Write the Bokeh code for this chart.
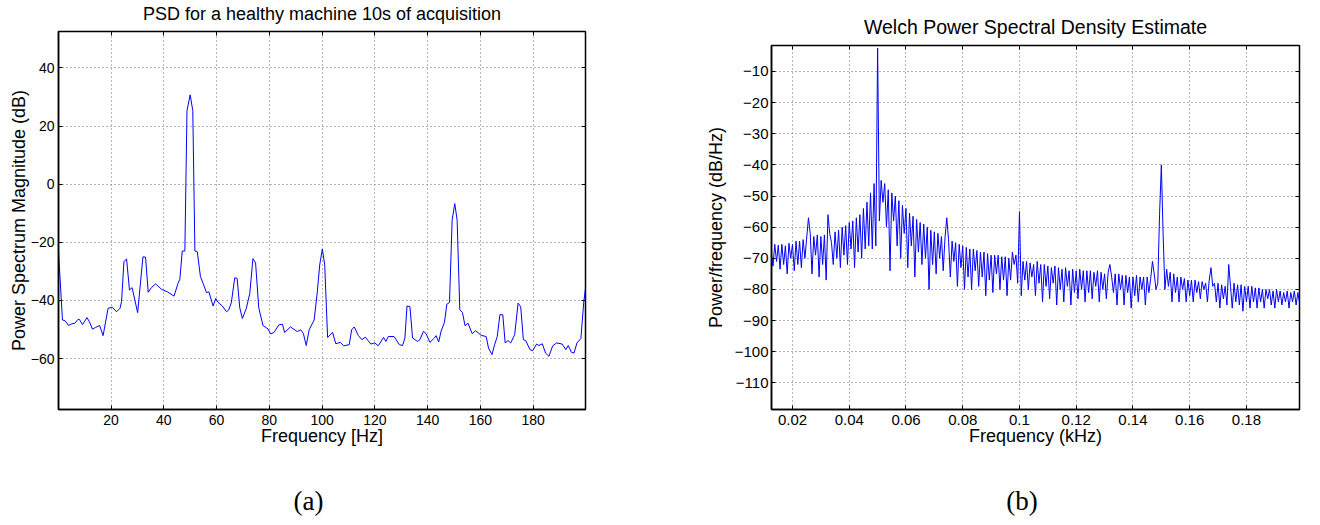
import numpy as np
from bokeh.plotting import figure
from bokeh.layouts import row, column
from bokeh.models import FixedTicker, LinearAxis, Range1d, Spacer
from bokeh.embed import file_html
from bokeh.resources import INLINE

# ---------------- data: (a) PSD of a healthy machine ----------------
freq_a_hz = [0.1, 1.6, 2.6, 3.9, 5.2, 6.2, 7.5, 8.0, 9.2, 10.9, 11.8, 13.0, 14.1, 15.7, 17.0,
             18.9, 20.5, 22.1, 23.4, 24.0, 24.9, 25.9, 27.0, 28.0, 30.1, 32.1, 33.1, 34.1, 35.3,
             36.9, 39.2, 41.3, 43.9, 45.4, 46.1, 47.0, 48.0, 48.8, 50.0, 51.0, 51.8, 52.7, 53.9,
             54.9, 56.2, 57.1, 58.7, 59.7, 60.6, 62.2, 63.8, 64.6, 65.6, 66.9, 67.8, 68.8, 69.8,
             71.3, 72.6, 73.8, 74.8, 76.0, 77.6, 79.5, 80.5, 81.8, 83.6, 85.0, 85.8, 88.0, 90.6,
             91.9, 92.9, 94.0, 95.1, 97.0, 98.2, 99.1, 100.1, 101.0, 102.1, 104.0, 105.2, 106.9,
             108.2, 110.3, 111.2, 112.2, 113.7, 115.1, 116.4, 118.5, 120.0, 121.3, 123.3, 124.2,
             125.1, 127.3, 129.3, 130.5, 131.4, 132.2, 133.3, 134.3, 136.2, 137.1, 138.4, 139.4,
             140.9, 142.6, 143.2, 144.2, 145.1, 146.4, 147.3, 148.3, 149.3, 150.3, 151.2, 152.2,
             153.2, 154.2, 155.3, 156.9, 158.2, 160.3, 162.2, 163.1, 164.4, 165.4, 166.4, 167.4,
             168.5, 169.4, 170.5, 171.5, 173.0, 174.3, 175.3, 176.3, 177.2, 178.8, 179.8, 181.3,
             182.2, 183.5, 184.7, 186.0, 187.4, 188.9, 191.0, 192.4, 193.3, 194.5, 195.5, 196.6,
             198.1, 199.2, 199.85]
psd_a_db = [-23.2, -46.7, -47.0, -48.6, -48.0, -47.9, -46.5, -46.5, -48.3, -45.9, -47.3, -49.9,
            -49.3, -48.6, -52.1, -42.7, -42.3, -43.9, -42.7, -40.4, -26.7, -25.7, -36.4, -35.6,
            -44.2, -25.0, -25.1, -37.2, -35.6, -34.3, -36.2, -37.0, -38.5, -34.1, -32.7, -23.0,
            -23.0, 25.3, 30.7, 25.3, -23.0, -23.2, -31.8, -34.1, -37.3, -37.0, -41.9, -39.3,
            -40.7, -41.9, -43.9, -43.3, -40.8, -32.2, -32.4, -42.5, -46.2, -42.7, -37.6, -25.6,
            -27.1, -42.5, -48.6, -49.8, -51.5, -51.0, -48.4, -48.2, -51.0, -49.1, -50.7, -50.1,
            -51.3, -55.5, -50.1, -46.7, -37.0, -27.8, -22.3, -27.8, -52.7, -51.0, -54.9, -54.4,
            -55.6, -55.2, -50.1, -49.1, -52.0, -53.5, -52.6, -55.0, -54.6, -55.6, -52.7, -54.1,
            -52.4, -52.4, -55.2, -55.5, -52.9, -41.9, -42.1, -52.9, -54.1, -53.5, -50.6, -51.4,
            -54.4, -52.9, -52.1, -54.3, -50.6, -47.5, -41.3, -40.7, -12.4, -6.7, -12.4, -43.2,
            -44.1, -48.7, -47.8, -51.4, -50.4, -52.0, -52.4, -56.4, -58.6, -55.2, -52.4, -44.9,
            -44.9, -54.6, -53.8, -54.6, -51.8, -40.9, -42.2, -53.5, -53.8, -56.9, -57.3, -55.0,
            -55.5, -54.9, -58.1, -59.2, -55.6, -54.6, -55.0, -56.9, -55.5, -57.8, -58.1, -54.6,
            -53.1, -40.5, -35.8]
xticks_a = [20, 40, 60, 80, 100, 120, 140, 160, 180]
xtick_labels_a = ["20", "40", "60", "80", "100", "120", "140", "160", "180"]
yticks_a = [-60, -40, -20, 0, 20, 40]
ytick_labels_a = ["\u221260", "\u221240", "\u221220", "0", "20", "40"]

# ---------------- data: (b) Welch PSD estimate ----------------
# uniform Welch frequency bins: bin k is at k * 0.625 Hz, first bin k = 20 (12.5 Hz)
bin_step_khz = 0.000625
bin_first = 20
psd_b_db = [
    -68.0, -72.5, -65.5, -71.0, -65.8, -73.5, -65.5, -72.0, -66.0, -75.0,   # k20-29
    -65.2, -70.0, -65.5, -74.0, -64.5, -72.0, -64.5, -73.0, -64.0, -70.0,   # k30-39
    -63.5, -57.0, -62.0, -75.0, -63.0, -69.0, -62.5, -76.0, -63.0, -72.0,   # k40-49
    -62.5, -77.0, -56.0, -62.0, -65.0, -72.0, -61.5, -70.0, -61.0, -73.0,   # k50-59
    -60.0, -69.0, -59.5, -72.0, -58.5, -67.0, -58.0, -73.0, -57.0, -68.0,   # k60-69
    -56.0, -70.0, -54.0, -67.0, -52.0, -66.0, -49.0, -67.0, -46.0, -66.0,   # k70-79
    -2.5, -58.0, -45.0, -52.0, -46.0, -60.0, -48.0, -74.0, -49.0, -58.0,    # k80-89 (k80 = 50 Hz)
    -50.0, -66.0, -51.5, -70.0, -53.0, -62.0, -54.0, -73.0, -55.5, -66.0,   # k90-99
    -56.5, -76.0, -57.5, -68.0, -58.5, -72.0, -59.0, -70.0, -60.0, -80.0,   # k100-109
    -61.0, -72.0, -61.5, -75.0, -62.0, -70.0, -63.0, -74.0, -63.5, -57.0,   # k110-119
    -64.0, -76.0, -64.5, -71.0, -65.0, -79.0, -65.5, -73.0, -66.0, -80.0,   # k120-129
    -66.5, -76.0, -67.0, -80.0, -67.0, -74.0, -67.5, -79.0, -68.0, -76.0,   # k130-139
    -68.0, -82.0, -68.5, -77.0, -69.0, -81.0, -69.0, -75.0, -69.0, -80.0,   # k140-149
    -69.5, -77.0, -69.5, -82.0, -70.0, -77.0, -68.0, -72.0, -69.0, -78.0,   # k150-159
    -55.0, -82.0, -71.0, -77.0, -71.0, -80.0, -71.5, -76.0, -72.0, -82.0,   # k160-169 (k160 = 100 Hz)
    -71.0, -78.0, -72.0, -84.0, -72.0, -79.0, -72.5, -83.0, -73.0, -78.0,   # k170-179
    -72.5, -85.0, -73.0, -80.0, -73.5, -84.0, -73.0, -79.0, -74.0, -85.0,   # k180-189
    -73.5, -81.0, -74.0, -83.0, -73.5, -80.0, -74.0, -84.0, -74.0, -81.0,   # k190-199
    -74.0, -83.0, -74.5, -79.0, -74.0, -84.0, -74.5, -80.0, -75.0, -83.0,   # k200-209
    -74.5, -72.0, -76.0, -81.0, -75.0, -85.0, -75.0, -80.0, -75.5, -85.0,   # k210-219
    -75.5, -81.0, -76.0, -86.0, -76.0, -82.0, -75.5, -84.0, -76.0, -80.0,   # k220-229
    -76.0, -85.0, -76.0, -81.0, -76.5, -71.0, -75.0, -80.0, -78.0, -56.0,   # k230-239
    -40.0, -62.0, -80.0, -73.5, -79.0, -74.5, -84.0, -75.0, -81.0, -76.0,   # k240-249 (k240 = 150 Hz)
    -84.0, -76.0, -80.0, -76.5, -84.0, -77.0, -82.0, -77.0, -84.0, -77.0,   # k250-259
    -81.0, -77.5, -83.0, -77.5, -80.0, -78.0, -84.0, -77.0, -73.0, -79.0,   # k260-269
    -78.0, -84.0, -78.0, -86.0, -78.5, -83.0, -79.0, -85.0, -72.0, -79.0,   # k270-279
    -86.0, -78.0, -84.0, -78.5, -85.0, -78.5, -87.0, -79.0, -84.0, -79.0,   # k280-289
    -86.0, -79.0, -84.0, -79.5, -86.0, -79.5, -84.0, -80.0, -86.0, -80.0,   # k290-299
    -83.0, -80.0, -85.0, -80.5, -86.0, -80.0, -84.0, -80.5, -85.0, -81.0,   # k300-309
    -84.0, -80.5, -86.0, -81.0, -84.0, -80.5, -85.0, -81.0, -84.5,          # k310-318
]
freq_b_khz = np.arange(bin_first, bin_first + len(psd_b_db)) * bin_step_khz
xticks_b = [0.02, 0.04, 0.06, 0.08, 0.1, 0.12, 0.14, 0.16, 0.18]
xtick_labels_b = ["0.02", "0.04", "0.06", "0.08", "0.1", "0.12", "0.14", "0.16", "0.18"]
yticks_b = [-110, -100, -90, -80, -70, -60, -50, -40, -30, -20, -10]
ytick_labels_b = ["\u2212110", "\u2212100", "\u221290", "\u221280", "\u221270", "\u221260",
                  "\u221250", "\u221240", "\u221230", "\u221220", "\u221210"]

title_a = "PSD for a healthy machine 10s of acquisition"
title_b = "Welch Power Spectral Density Estimate"
caption_a = "(a)"
caption_b = "(b)"

FONT = "Liberation Sans"
SERIF = "Liberation Serif"
LINE_BLUE = "#0000ff"
NBSP_PAD = "\u00a0" * 4   # shifts the centred caption slightly left, as in the source figure


def hidden_axis(ticks, tick_in):
    # an axis whose tick labels are not drawn (used for box ticks, title and caption)
    return LinearAxis(ticker=FixedTicker(ticks=ticks), major_label_text_font_size="0px",
                      major_label_text_color=None, major_label_standoff=0,
                      major_tick_in=tick_in, major_tick_out=0,
                      major_tick_line_color="black" if tick_in else None,
                      minor_tick_line_color=None, axis_line_color=None)


def style(p, xt, xl, yt, yl, xlab, ylab, tick_size, ylab_standoff, ymaj_standoff,
          title, title_size, title_standoff, caption, caption_standoff):
    p.background_fill_color = "white"
    p.border_fill_color = "white"
    p.outline_line_color = "black"
    p.outline_line_width = 1.5

    p.xaxis.ticker = FixedTicker(ticks=xt)
    p.xaxis.major_label_overrides = dict(zip(xt, xl))
    p.yaxis.ticker = FixedTicker(ticks=yt)
    p.yaxis.major_label_overrides = dict(zip(yt, yl))
    p.xaxis.axis_label = xlab
    p.yaxis.axis_label = ylab
    for ax in (p.xaxis, p.yaxis):
        ax.axis_label_text_font = FONT
        ax.axis_label_text_font_size = "18px"
        ax.axis_label_text_font_style = "normal"
        ax.axis_label_text_color = "black"
        ax.major_label_text_font = FONT
        ax.major_label_text_font_size = tick_size
        ax.major_label_text_color = "black"
        ax.major_tick_in = 4
        ax.major_tick_out = 0
        ax.minor_tick_line_color = None
        ax.axis_line_width = 1.5
        ax.axis_line_color = "black"
        ax.major_tick_line_color = "black"
    p.xaxis.major_label_standoff = 5
    p.xaxis.axis_label_standoff = -2
    p.yaxis.major_label_standoff = ymaj_standoff
    p.yaxis.axis_label_standoff = ylab_standoff

    # top: box ticks + chart title
    top = hidden_axis(xt, 4)
    top.axis_label = title
    top.axis_label_text_font = FONT
    top.axis_label_text_font_size = title_size
    top.axis_label_text_font_style = "normal"
    top.axis_label_text_color = "black"
    top.axis_label_standoff = title_standoff
    p.add_layout(top, "above")

    # right: box ticks
    right = hidden_axis(yt, 4)
    right.axis_label_standoff = 0
    p.add_layout(right, "right")

    # bottom: sub-figure caption
    cap = hidden_axis([], 0)
    cap.axis_label = caption + NBSP_PAD
    cap.axis_label_text_font = SERIF
    cap.axis_label_text_font_size = "27px"
    cap.axis_label_text_font_style = "normal"
    cap.axis_label_text_color = "black"
    cap.axis_label_standoff = caption_standoff
    p.add_layout(cap, "below")

    p.xgrid.ticker = FixedTicker(ticks=xt)
    p.ygrid.ticker = FixedTicker(ticks=yt)
    for g in (p.xgrid, p.ygrid):
        g.grid_line_color = "#6e6e6e"
        g.grid_line_dash = "1 3"
        g.grid_line_width = 1


# ---------------- figure (a) ----------------
p1 = figure(width=700, height=521,
            x_range=Range1d(0.1, 199.85), y_range=Range1d(-77.5, 52.5),
            output_backend="svg", toolbar_location=None,
            min_border_left=58, min_border_right=115, min_border_top=29, min_border_bottom=112)
p1.line(freq_a_hz, psd_a_db, line_color=LINE_BLUE, line_width=1)
style(p1, xticks_a, xtick_labels_a, yticks_a, ytick_labels_a,
      "Frequency [Hz]", "Power Spectrum Magnitude (dB)", "14px", -1, 4,
      title_a, "18px", 8, caption_a, 37)

# ---------------- figure (b) ----------------
p2 = figure(width=612, height=509,
            x_range=Range1d(0.0126, 0.1987), y_range=Range1d(-118.56, -1.66),
            output_backend="svg", toolbar_location=None,
            min_border_left=71, min_border_right=13, min_border_top=29, min_border_bottom=112)
p2.line(freq_b_khz, psd_b_db, line_color=LINE_BLUE, line_width=1)
style(p2, xticks_b, xtick_labels_b, yticks_b, ytick_labels_b,
      "Frequency (kHz)", "Power/frequency (dB/Hz)", "15px", 6, 3,
      title_b, "19.5px", 8, caption_b, 37)

layout = row(p1, column(Spacer(width=612, height=12), p2))
open("out.html", "w").write(file_html(layout, INLINE))
